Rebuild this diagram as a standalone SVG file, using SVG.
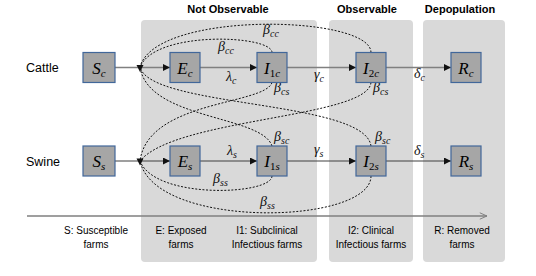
<svg xmlns="http://www.w3.org/2000/svg" width="536" height="276" viewBox="0 0 536 276">
<defs>
<style>
.panel{fill:#d9d9d9;}
.title{font-family:"Liberation Sans",Arial,sans-serif;font-weight:bold;font-size:11px;fill:#000;text-anchor:middle;}
.lbl{font-family:"Liberation Sans",Arial,sans-serif;font-size:12.5px;fill:#000;}
.cap{font-family:"Liberation Sans",Arial,sans-serif;font-size:10px;fill:#000;text-anchor:middle;}
.box{fill:#a6a6a6;stroke:#41679a;stroke-width:1.2;}
.bt{font-family:"Liberation Serif","Times New Roman",serif;font-style:italic;font-size:17px;fill:#000;text-anchor:middle;}
.bs{font-size:11px;}
.m{font-family:"Liberation Serif","Times New Roman",serif;font-style:italic;font-size:14px;fill:#111;}
.ms{font-size:10px;}
.up{font-style:normal;}
.flowc{stroke:#808080;stroke-width:1.3;fill:none;}
.flows{stroke:#404040;stroke-width:1.2;fill:none;}
.dash{stroke:#111;stroke-width:1;stroke-dasharray:2,1.6;fill:none;}
.axis{stroke:#7f7f7f;stroke-width:1.3;fill:none;}
</style>
<marker id="ah" viewBox="0 0 10 10" refX="10" refY="5" markerWidth="7" markerHeight="7" markerUnits="userSpaceOnUse" orient="auto">
<path d="M0,0 L10,5 L0,10 z" fill="#111"/>
</marker>
<marker id="open" viewBox="0 0 10 10" refX="10" refY="5" markerWidth="8" markerHeight="8" markerUnits="userSpaceOnUse" orient="auto">
<path d="M1,1 L10,5 L1,9" fill="none" stroke="#7f7f7f" stroke-width="1.2"/>
</marker>
</defs>

<rect width="536" height="276" fill="#fff"/>

<g id="panels">
<rect class="panel" x="141" y="20" width="176" height="242" rx="4"/>
<rect class="panel" x="329" y="20" width="84" height="242" rx="4"/>
<rect class="panel" x="423" y="20" width="82" height="242" rx="4"/>
<text class="title" x="228" y="13">Not Observable</text>
<text class="title" x="367" y="13">Observable</text>
<text class="title" x="460" y="13">Depopulation</text>
</g>

<g id="row-labels">
<text class="lbl" x="26" y="72">Cattle</text>
<text class="lbl" x="26" y="166">Swine</text>
</g>

<g id="connectors">
<line class="flowc" x1="115" y1="67.5" x2="170" y2="67.5" marker-end="url(#ah)"/>
<line class="flowc" x1="200" y1="67.5" x2="257" y2="67.5" marker-end="url(#ah)"/>
<line class="flowc" x1="287" y1="67.5" x2="356" y2="67.5" marker-end="url(#ah)"/>
<line class="flowc" x1="386" y1="67.5" x2="451" y2="67.5" marker-end="url(#ah)"/>
<line class="flows" x1="115" y1="161" x2="170" y2="161" marker-end="url(#ah)"/>
<line class="flows" x1="200" y1="161" x2="257" y2="161" marker-end="url(#ah)"/>
<line class="flows" x1="287" y1="161" x2="356" y2="161" marker-end="url(#ah)"/>
<line class="flows" x1="386" y1="161" x2="451" y2="161" marker-end="url(#ah)"/>

<path class="dash" d="M272,52.5 C272,35 155,30 140,67"/>
<path class="dash" d="M371,52.5 C371,15 155,10 140,67"/>
<path class="dash" d="M272,82.5 C265,105 148,100 140,161"/>
<path class="dash" d="M371,82.5 C368,118 175,118 140,161"/>
<path class="dash" d="M272,146 C262,115 148,120 140,67"/>
<path class="dash" d="M371,146 C365,100 150,108 140,67"/>
<path class="dash" d="M272,176 C272,195 155,200 140,161"/>
<path class="dash" d="M371,176 C371,225 155,230 140,161"/>
<polygon points="136.5,65 143.5,65 140,72" fill="#111"/>
<polygon points="136.5,158.5 143.5,158.5 140,165.5" fill="#111"/>

<line class="axis" x1="27" y1="216" x2="487" y2="216" marker-end="url(#open)"/>
</g>

<g id="rates">
<text class="m" x="218" y="51">β<tspan class="ms" dy="3">cc</tspan></text>
<text class="m" x="263" y="34">β<tspan class="ms" dy="3">cc</tspan></text>
<text class="m" x="226" y="81">λ<tspan class="ms" dy="3">c</tspan></text>
<text class="m" x="314" y="79">γ<tspan class="ms" dy="3">c</tspan></text>
<text class="m" x="414" y="78">δ<tspan class="ms" dy="3">c</tspan></text>
<text class="m" x="274" y="92">β<tspan class="ms" dy="3">cs</tspan></text>
<text class="m" x="373" y="92">β<tspan class="ms" dy="3">cs</tspan></text>
<text class="m" x="274" y="141">β<tspan class="ms" dy="3">sc</tspan></text>
<text class="m" x="375" y="141">β<tspan class="ms" dy="3">sc</tspan></text>
<text class="m" x="227" y="155">λ<tspan class="ms" dy="3">s</tspan></text>
<text class="m" x="314" y="154">γ<tspan class="ms" dy="3">s</tspan></text>
<text class="m" x="414" y="155">δ<tspan class="ms" dy="3">s</tspan></text>
<text class="m" x="213" y="183">β<tspan class="ms" dy="3">ss</tspan></text>
<text class="m" x="260" y="206">β<tspan class="ms" dy="3">ss</tspan></text>
</g>

<g id="node-Sc"><rect class="box" x="83" y="52.5" width="32" height="30"/><text class="bt" x="99" y="74">S<tspan class="bs" dy="3">c</tspan></text></g>
<g id="node-Ec"><rect class="box" x="170" y="52.5" width="30" height="30"/><text class="bt" x="185" y="74">E<tspan class="bs" dy="3">c</tspan></text></g>
<g id="node-I1c"><rect class="box" x="257" y="52.5" width="30" height="30"/><text class="bt" x="272" y="74">I<tspan class="bs up" dy="3">1</tspan><tspan class="bs">c</tspan></text></g>
<g id="node-I2c"><rect class="box" x="356" y="52.5" width="30" height="30"/><text class="bt" x="371" y="74">I<tspan class="bs up" dy="3">2</tspan><tspan class="bs">c</tspan></text></g>
<g id="node-Rc"><rect class="box" x="451" y="52.5" width="30" height="30"/><text class="bt" x="466" y="74">R<tspan class="bs" dy="3">c</tspan></text></g>

<g id="node-Ss"><rect class="box" x="83" y="146" width="32" height="30"/><text class="bt" x="99" y="167">S<tspan class="bs" dy="3">s</tspan></text></g>
<g id="node-Es"><rect class="box" x="170" y="146" width="30" height="30"/><text class="bt" x="185" y="167">E<tspan class="bs" dy="3">s</tspan></text></g>
<g id="node-I1s"><rect class="box" x="257" y="146" width="30" height="30"/><text class="bt" x="272" y="167">I<tspan class="bs up" dy="3">1</tspan><tspan class="bs">s</tspan></text></g>
<g id="node-I2s"><rect class="box" x="356" y="146" width="30" height="30"/><text class="bt" x="371" y="167">I<tspan class="bs up" dy="3">2</tspan><tspan class="bs">s</tspan></text></g>
<g id="node-Rs"><rect class="box" x="451" y="146" width="30" height="30"/><text class="bt" x="466" y="167">R<tspan class="bs" dy="3">s</tspan></text></g>

<g id="captions">
<text class="cap" x="96" y="234">S: Susceptible</text>
<text class="cap" x="96" y="248">farms</text>
<text class="cap" x="181" y="234">E: Exposed</text>
<text class="cap" x="181" y="248">farms</text>
<text class="cap" x="267" y="234">I1: Subclinical</text>
<text class="cap" x="267" y="248">Infectious farms</text>
<text class="cap" x="371" y="234">I2: Clinical</text>
<text class="cap" x="371" y="248">Infectious farms</text>
<text class="cap" x="462" y="234">R: Removed</text>
<text class="cap" x="462" y="248">farms</text>
</g>
</svg>
